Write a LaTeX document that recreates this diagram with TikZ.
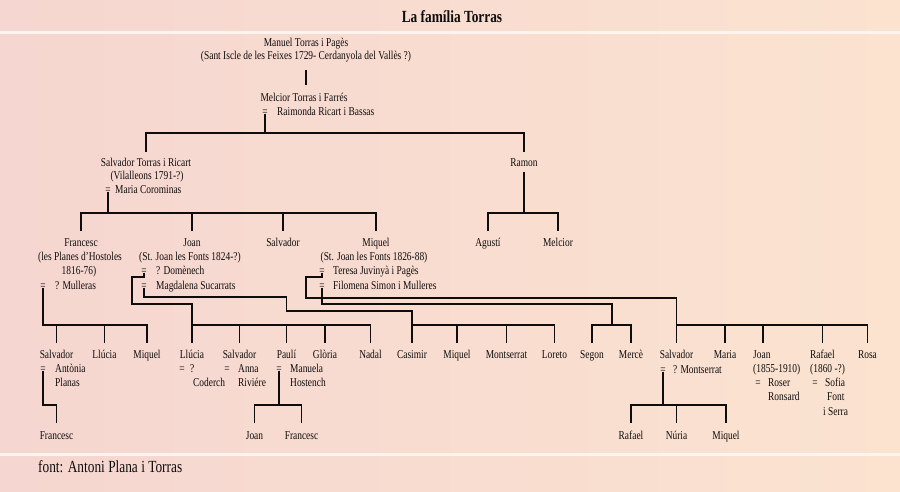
\documentclass[tikz,border=0pt]{standalone}
\usepackage{fontspec}
\setmainfont{Liberation Serif}[FakeStretch=0.785]
\definecolor{bgL}{RGB}{245,214,208}
\definecolor{bgR}{RGB}{251,227,208}
\definecolor{rule}{RGB}{253,243,239}
\definecolor{ink}{RGB}{15,12,12}
\tikzset{
  pers/.style={font=\fontsize{12}{14}\selectfont, text=ink, inner sep=0pt, text height=8.3pt, text depth=2.6pt},
  pw/.style={pers, anchor=west},
  ln/.style={line width=1.15pt, draw=ink},
}
\begin{document}
\begin{tikzpicture}[x=1pt,y=-1pt]
\useasboundingbox (0,0) rectangle (900,491);
\shade[left color=bgL, right color=bgR] (0,0) rectangle (900,491);
\fill[rule] (0,31) rectangle (900,33.5);
\fill[rule] (0,453) rectangle (900,455.5);

% levels
\coordinate (lA1) at (0,70);  \coordinate (lA2) at (0,85);
\coordinate (lB) at (0,133);  \coordinate (lC) at (0,152);
\coordinate (lRb) at (0,172); \coordinate (lD) at (0,213);
\coordinate (lE) at (0,231);  \coordinate (lDs) at (0,277);
\coordinate (lDom) at (0,304); \coordinate (lMagA) at (0,297);
\coordinate (lMagB) at (0,311); \coordinate (lTer) at (0,298);
\coordinate (lFil) at (0,304); \coordinate (lF) at (0,325);
\coordinate (lG) at (0,343);  \coordinate (lH) at (0,405);
\coordinate (lI) at (0,423);
\coordinate (xDom) at (132,0); \coordinate (xTer) at (306,0);
\coordinate (xFil) at (612,0);

% title and footer
\node[font=\fontsize{17}{19}\selectfont\bfseries, text=ink, inner sep=0pt] (tit) at (452,17) {La família Torras};
\node[font=\fontsize{17}{19}\selectfont, text=ink, inner sep=0pt, anchor=west] (foot) at (38,467) {font: Antoni Plana i Torras};

% generation 1
\node[pers] (man1) at (306,43.5) {Manuel Torras i Pagès};
\node[pers] (man2) at (306,57) {(Sant Iscle de les Feixes 1729- Cerdanyola del Vallès ?)};
\node[pers] (mel) at (304,99) {Melcior Torras i Farrés};
\node[pers] (eqMel) at (265,113) {=};
\node[pw] (raim) at (277,113) {Raimonda Ricart i Bassas};

% generation 2
\node[pers] (salv) at (146,164) {Salvador Torras i Ricart};
\node[pers] (salvA) at (147,177) {(Vilalleons 1791-?)};
\node[pers] (eqSal) at (108,191) {=};
\node[pw] (mariaC) at (115,191) {Maria Corominas};
\node[pers] (ramon) at (524,164) {Ramon};

% generation 3
\node[pers] (fran) at (81,244) {Francesc};
\node[pers] (franA) at (80,258) {(les Planes d’Hostoles};
\node[pers] (franB) at (79,272) {1816-76)};
\node[pers] (eqFra) at (43,287) {=};
\node[pw] (mull) at (55,287) {? Mulleras};

\node[pers] (joan) at (192,244) {Joan};
\node[pers] (joanA) at (190,258) {(St. Joan les Fonts 1824-?)};
\node[pers] (eqDom) at (144,272) {=};
\node[pw] (dom) at (156,272) {? Domènech};
\node[pers] (eqMag) at (144,287) {=};
\node[pw] (mag) at (156,287) {Magdalena Sucarrats};

\node[pers] (salv2) at (283,244) {Salvador};

\node[pers] (miq) at (376,244) {Miquel};
\node[pers] (miqA) at (374,258) {(St. Joan les Fonts 1826-88)};
\node[pers] (eqTer) at (322,272) {=};
\node[pw] (ter) at (333,272) {Teresa Juvinyà i Pagès};
\node[pers] (eqFil) at (322,287) {=};
\node[pw] (fil) at (333,287) {Filomena Simon i Mulleres};

\node[pers] (agu) at (488,244) {Agustí};
\node[pers] (melc) at (558,244) {Melcior};

% generation 4
\node[pers] (fSal) at (56.5,356) {Salvador};
\node[pers] (eqAnt) at (43,370) {=};
\node[pw] (ant) at (55,370) {Antònia};
\node[pw] (plan) at (55,384) {Planas};
\node[pers] (fLlu) at (104.5,356) {Llúcia};
\node[pers] (fMiq) at (147,356) {Miquel};

\node[pers] (jLlu) at (192,356) {Llúcia};
\node[pers] (eqLlu) at (182,370) {=};
\node[pw] (llq) at (190,370) {?};
\node[pw] (coder) at (193,384) {Coderch};
\node[pers] (jSal) at (239.5,356) {Salvador};
\node[pers] (eqAnna) at (227,370) {=};
\node[pw] (anna) at (238,370) {Anna};
\node[pw] (riv) at (238,384) {Riviére};
\node[pers] (jPau) at (286.5,356) {Paulí};
\node[pers] (eqPau) at (279,370) {=};
\node[pw] (manu) at (290,370) {Manuela};
\node[pw] (host) at (290,384) {Hostench};
\node[pers] (jGlo) at (325,356) {Glòria};
\node[pers] (jNad) at (370.5,356) {Nadal};

\node[pers] (cas) at (412,356) {Casimir};
\node[pers] (mq2) at (457,356) {Miquel};
\node[pers] (mon) at (506.5,356) {Montserrat};
\node[pers] (lor) at (554.5,356) {Loreto};

\node[pers] (seg) at (592,356) {Segon};
\node[pers] (mer) at (631,356) {Mercè};

\node[pers] (sal4) at (676.5,356) {Salvador};
\node[pers] (eqMon) at (663,371) {=};
\node[pw] (monS) at (673,371) {? Montserrat};
\node[pers] (mar4) at (725,356) {Maria};
\node[pw] (joan4) at (753,356) {Joan};
\node[pw] (joan4A) at (753,370) {(1855-1910)};
\node[pers] (eqRos) at (758,384) {=};
\node[pw] (ros) at (768,384) {Roser};
\node[pw] (ron) at (768,398) {Ronsard};
\node[pw] (rafa4) at (810,356) {Rafael};
\node[pw] (rafa4A) at (810,370) {(1860 -?)};
\node[pers] (eqSof) at (815,384) {=};
\node[pw] (sof) at (825,384) {Sofia};
\node[pw] (fnt) at (827,398) {Font};
\node[pw] (ser) at (823,413) {i Serra};
\node[pers] (rosa) at (867.5,356) {Rosa};
\coordinate (joan4x) at ([xshift=10pt]joan4.west);

% generation 5
\node[pers] (fFra) at (56.5,437) {Francesc};
\node[pers] (pJoan) at (254.5,437) {Joan};
\node[pers] (pFra) at (301.5,437) {Francesc};
\node[pers] (rRaf) at (631,437) {Rafael};
\node[pers] (rNur) at (676.5,437) {Núria};
\node[pers] (rMiq) at (726,437) {Miquel};

% ---------- connectors ----------
\draw[ln] (man2 |- lA1) -- (man2 |- lA2);
\draw[ln] ([yshift=-0.6pt]eqMel.center) -- (eqMel |- lB);
\draw[ln] (salv |- lC) -- (salv |- lB) -- (ramon |- lB) -- (ramon |- lC);

% Salvador Torras i Ricart
\draw[ln] ([yshift=-0.6pt]eqSal.center) -- (eqSal |- lD);
\draw[ln] (fran |- lE) -- (fran |- lD) -- (miq |- lD) -- (miq |- lE);
\draw[ln] (joan |- lD) -- (joan |- lE);
\draw[ln] (salv2 |- lD) -- (salv2 |- lE);

% Ramon
\draw[ln] (ramon |- lRb) -- (ramon |- lD);
\draw[ln] (agu |- lE) -- (agu |- lD) -- (melc |- lD) -- (melc |- lE);

% Francesc = ? Mulleras
\draw[ln] ([yshift=-0.6pt]eqFra.center) |- (fMiq |- lF) -- (fMiq |- lG);
\draw[ln] (fSal |- lF) -- (fSal |- lG);
\draw[ln] (fLlu |- lF) -- (fLlu |- lG);

% Joan = ? Domenech
\draw[ln] ([yshift=-0.6pt]eqDom.center) |- (xDom |- lDs) |- (jLlu |- lDom) -- (jLlu |- lG);
\draw[ln] (jLlu |- lF) -- (jNad |- lF) -- (jNad |- lG);
\draw[ln] (jSal |- lF) -- (jSal |- lG);
\draw[ln] (jPau |- lF) -- (jPau |- lG);
\draw[ln] (jGlo |- lF) -- (jGlo |- lG);

% Joan = Magdalena Sucarrats
\draw[ln] ([yshift=-0.6pt]eqMag.center) |- (jPau |- lMagA) |- (cas |- lMagB) -- (cas |- lG);
\draw[ln] (cas |- lF) -- (lor |- lF) -- (lor |- lG);
\draw[ln] (mq2 |- lF) -- (mq2 |- lG);
\draw[ln] (mon |- lF) -- (mon |- lG);

% Miquel = Teresa Juvinya i Pages
\draw[ln] ([yshift=-0.6pt]eqTer.center) |- (xTer |- lDs) |- (sal4 |- lTer) -- (sal4 |- lG);
\draw[ln] (sal4 |- lF) -- (rosa |- lF) -- (rosa |- lG);
\draw[ln] (mar4 |- lF) -- (mar4 |- lG);
\draw[ln] (joan4x |- lF) -- (joan4x |- lG);
\draw[ln] (rafa4 |- lF) -- (rafa4 |- lG);

% Miquel = Filomena Simon i Mulleres
\draw[ln] ([yshift=-0.6pt]eqFil.center) |- (xFil |- lFil) -- (xFil |- lF);
\draw[ln] (seg |- lG) -- (seg |- lF) -- (mer |- lF) -- (mer |- lG);

% Salvador = Antonia Planas
\draw[ln] ([yshift=-0.6pt]eqAnt.center) |- (fFra |- lH) -- (fFra |- lI);

% Pauli = Manuela Hostench
\draw[ln] ([yshift=-0.6pt]eqPau.center) -- (eqPau |- lH);
\draw[ln] (pJoan |- lI) -- (pJoan |- lH) -- (pFra |- lH) -- (pFra |- lI);

% Salvador = ? Montserrat
\draw[ln] ([yshift=-0.6pt]eqMon.center) -- (eqMon |- lH);
\draw[ln] (rRaf |- lI) -- (rRaf |- lH) -- (rMiq |- lH) -- (rMiq |- lI);
\draw[ln] (rNur |- lH) -- (rNur |- lI);
\end{tikzpicture}
\end{document}
